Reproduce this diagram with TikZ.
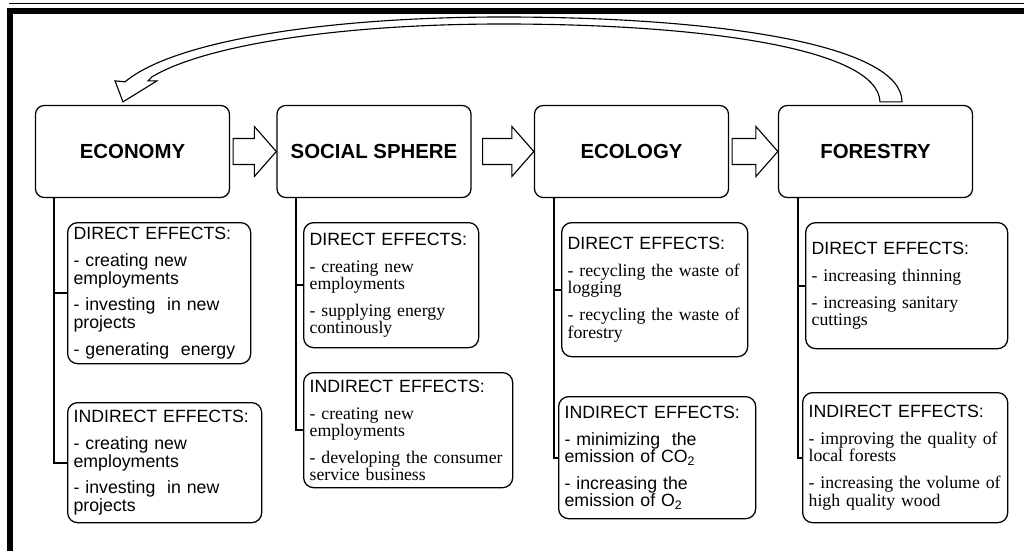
\documentclass[tikz,border=0pt]{standalone}
\usepackage{fontspec}
\setmainfont{Liberation Serif}
\setsansfont{Liberation Sans}
\usetikzlibrary{calc}

\begin{document}
\begin{tikzpicture}[
    x=0.025cm, y=-0.025cm,
    box/.style={draw, line width=0.9pt, rounded corners=0.22cm, minimum width=4.85cm,
                minimum height=2.3cm, align=center,
                font=\fontsize{14.5}{16}\selectfont\sffamily\bfseries},
    eff/.style={draw, line width=0.9pt, rounded corners=0.25cm, anchor=north west,
                align=left, inner xsep=0.15cm, inner ysep=0pt,
                font=\fontsize{12.6}{12.2}\selectfont\sffamily},
    link/.style={line width=1.4pt},
    blk/.style={draw, fill=white, line width=0.8pt, line join=miter}
  ]
  \useasboundingbox (0,0) rectangle (1024,551);

  %% ---- frame ----
  \draw[line width=0.15cm] (10,551) -- (10,11) -- (1024,11);
  \draw[line width=0.035cm] (9,3.5) -- (1024,3.5);

  %% ---- main row ----
  \node[box] (econ)   at (132.5,151.5) {ECONOMY};
  \node[box] (social) at (374,151.5)   {SOCIAL SPHERE};
  \node[box] (ecol)   at (631.5,151.5) {ECOLOGY};
  \node[box] (forest) at (875.5,151.5) {FORESTRY};

  \draw[blk] ($(econ.east)+(3,-13)$) -- ($(social.west)+(-22,-13)$) -- ($(social.west)+(-22,-25)$)
    -- (social.west) -- ($(social.west)+(-22,25)$) -- ($(social.west)+(-22,13)$)
    -- ($(econ.east)+(3,13)$) -- cycle;
  \draw[blk] ($(social.east)+(11,-13)$) -- ($(ecol.west)+(-22,-13)$) -- ($(ecol.west)+(-22,-25)$)
    -- (ecol.west) -- ($(ecol.west)+(-22,25)$) -- ($(ecol.west)+(-22,13)$)
    -- ($(social.east)+(11,13)$) -- cycle;
  \draw[blk] ($(ecol.east)+(3,-13)$) -- ($(forest.west)+(-22,-13)$) -- ($(forest.west)+(-22,-25)$)
    -- (forest.west) -- ($(forest.west)+(-22,25)$) -- ($(forest.west)+(-22,13)$)
    -- ($(ecol.east)+(3,13)$) -- cycle;

  %% ---- feedback arrow ----
  \draw[blk] ($(forest.north)+(26.5,-3)$) .. controls (902,45) and (720,17) .. (503,17)
    .. controls (330,17) and (175,40) .. ($(econ.north)+(-7.5,-23)$)
    -- ($(econ.north)+(-17.5,-24)$) -- ($(econ.north)+(-9.5,-3)$)
    -- ($(econ.north)+(24.5,-24)$) -- ($(econ.north)+(15.5,-24)$)
    -- ($(econ.north)+(19.5,-28)$) .. controls (205,45) and (340,24) .. (503,24)
    .. controls (700,24) and (878,48) .. ($(forest.north)+(4.5,-3)$) -- cycle;

  %% ---- economy effects ----
  \node[eff, text width=4.275cm, minimum height=3.525cm] (econ_dir) at (67,222)
    {DIRECT EFFECTS:\\[7pt]- creating new\\employments\\[7pt]- investing\ \ in new\\projects\\[7pt]- generating\ \ energy};
  \node[eff, text width=4.55cm, minimum height=3.0cm] (econ_ind) at (67,402)
    {INDIRECT EFFECTS:\\[7pt]- creating new\\employments\\[7pt]- investing\ \ in new\\projects};

  \draw[link] ($(econ.south west)+(19,0)$) |- (econ_dir.west);
  \draw[link] ($(econ.south west)+(19,0)$) |- (econ_ind.west);

  %% ---- social sphere effects ----
  \node[eff, text width=4.075cm, minimum height=3.125cm] (social_dir) at (303,222)
    {DIRECT EFFECTS:\\[7pt]\rmfamily - creating new\\employments\\[7pt]- supplying energy\\continously};
  \node[eff, text width=4.925cm, minimum height=2.875cm] (social_ind) at (303,372)
    {INDIRECT EFFECTS:\\[7pt]\rmfamily - creating new\\employments\\[7pt]- developing the consumer\\service business};

  \draw[link] ($(social.south west)+(20,0)$) |- (social_dir.west);
  \draw[link] ($(social.south west)+(20,0)$) |- (social_ind.west);

  %% ---- ecology effects ----
  \node[eff, text width=4.35cm, minimum height=3.35cm] (ecol_dir) at (561,222)
    {DIRECT EFFECTS:\\[7pt]\rmfamily - recycling the waste of\\logging\\[7pt]- recycling the waste of\\forestry};
  \node[eff, text width=4.625cm, minimum height=3.05cm] (ecol_ind) at (558,396)
    {INDIRECT EFFECTS:\\[7pt]- minimizing\ \ the\\emission of CO\textsubscript{2}\\[7pt]- increasing the\\emission of O\textsubscript{2}};

  \draw[link] ($(ecol.south west)+(20,0)$) |- (ecol_dir.west);
  \draw[link] ($(ecol.south west)+(20,0)$) |- (ecol_ind.west);

  %% ---- forestry effects ----
  \node[eff, text width=4.75cm, minimum height=3.15cm] (forest_dir) at (805,222)
    {DIRECT EFFECTS:\\[7pt]\rmfamily - increasing thinning\\[7pt]- increasing sanitary\\cuttings};
  \node[eff, text width=4.825cm, minimum height=3.25cm] (forest_ind) at (802,392)
    {INDIRECT EFFECTS:\\[7pt]\rmfamily - improving the quality of\\local forests\\[7pt]- increasing the volume of\\high quality wood};

  \draw[link] ($(forest.south west)+(20,0)$) |- (forest_dir.west);
  \draw[link] ($(forest.south west)+(20,0)$) |- (forest_ind.west);

\end{tikzpicture}
\end{document}
